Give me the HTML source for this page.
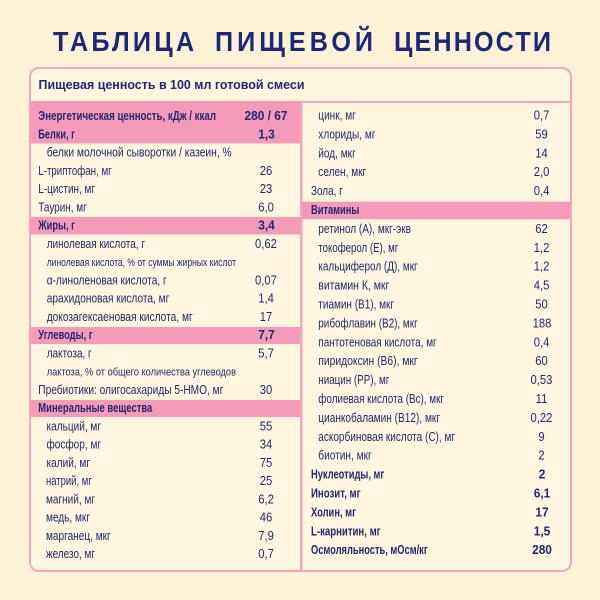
<!DOCTYPE html>
<html><head><meta charset="utf-8"><style>
html,body{margin:0;padding:0;background:#fef2d6;}
svg{display:block;}
text{font-family:"Liberation Sans",sans-serif;fill:#1f2874;font-size:12.6px;}
.b{font-weight:bold;font-size:12.8px;}
.s{font-size:11px;}
.v{font-size:12.5px;}
.vb{font-size:12.8px;font-weight:bold;}
.t{font-size:28px;font-weight:bold;fill:#1b2877;}
.h{font-size:13px;font-weight:bold;}
</style></head><body>
<svg width="600" height="600" viewBox="0 0 600 600" xmlns="http://www.w3.org/2000/svg">
<rect x="0" y="0" width="600" height="600" fill="#fef2d6"/>
<!-- title -->
<text class="t" transform="translate(53,51) scale(.9,1)" textLength="156.7" lengthAdjust="spacing">ТАБЛИЦА</text>
<text class="t" transform="translate(215,51) scale(.9,1)" textLength="175.6" lengthAdjust="spacing">ПИЩЕВОЙ</text>
<text class="t" transform="translate(394,51) scale(.9,1)" textLength="174.4" lengthAdjust="spacing">ЦЕННОСТИ</text>

<!-- box -->
<rect x="30" y="68" width="541" height="503" rx="9" ry="9" fill="#fff6df" stroke="#f4a6bf" stroke-width="2"/>
<rect x="31" y="101" width="539" height="2" fill="#f4a6bf"/>
<rect x="300" y="101" width="2.5" height="469" fill="#f4a6bf"/>
<rect x="31" y="101" width="269" height="42.5" fill="#f59bb9"/>
<rect x="31" y="217" width="269" height="17.5" fill="#f59bb9"/>
<rect x="31" y="327" width="269" height="17" fill="#f59bb9"/>
<rect x="31" y="400" width="269" height="17" fill="#f59bb9"/>
<rect x="302" y="201.7" width="268" height="17.5" fill="#f59bb9"/>

<text class="h" x="38.5" y="89" textLength="266" lengthAdjust="spacingAndGlyphs">Пищевая ценность в 100 мл готовой смеси</text>

<!-- LEFT COLUMN labels -->
<text class="b" x="38.3" y="120" textLength="177.7" lengthAdjust="spacingAndGlyphs">Энергетическая ценность, кДж / ккал</text>
<text class="b" x="38.3" y="138.3" textLength="36.7" lengthAdjust="spacingAndGlyphs">Белки, г</text>
<text x="46.7" y="156.5" textLength="185" lengthAdjust="spacingAndGlyphs">белки молочной сыворотки / казеин, %</text>
<text x="38.3" y="174.8" textLength="73.4" lengthAdjust="spacingAndGlyphs">L-триптофан, мг</text>
<text x="38.3" y="193" textLength="56.7" lengthAdjust="spacingAndGlyphs">L-цистин, мг</text>
<text x="38.3" y="211.3" textLength="48.4" lengthAdjust="spacingAndGlyphs">Таурин, мг</text>
<text class="b" x="38.3" y="229.6" textLength="36.7" lengthAdjust="spacingAndGlyphs">Жиры, г</text>
<text x="46.7" y="247.8" textLength="98.3" lengthAdjust="spacingAndGlyphs">линолевая кислота, г</text>
<text class="s" x="46.7" y="266.1" textLength="189.3" lengthAdjust="spacingAndGlyphs">линолевая кислота, % от суммы жирных кислот</text>
<text x="46.7" y="284.3" textLength="120" lengthAdjust="spacingAndGlyphs">α-линоленовая кислота, г</text>
<text x="46.7" y="302.6" textLength="122.6" lengthAdjust="spacingAndGlyphs">арахидоновая кислота, мг</text>
<text x="46.7" y="320.9" textLength="146" lengthAdjust="spacingAndGlyphs">докозагексаеновая кислота, мг</text>
<text class="b" x="38.3" y="339.1" textLength="54.4" lengthAdjust="spacingAndGlyphs">Углеводы, г</text>
<text x="46.7" y="357.4" textLength="45" lengthAdjust="spacingAndGlyphs">лактоза, г</text>
<text class="s" x="46.7" y="375.6" textLength="189.3" lengthAdjust="spacingAndGlyphs">лактоза, % от общего количества углеводов</text>
<text x="38.3" y="393.9" textLength="185" lengthAdjust="spacingAndGlyphs">Пребиотики: олигосахариды 5-HMO, мг</text>
<text class="b" x="38.3" y="412.2" textLength="114" lengthAdjust="spacingAndGlyphs">Минеральные вещества</text>
<text transform="translate(46.5,430.4) scale(.8,1)">кальций, мг</text>
<text transform="translate(46.5,448.7) scale(.8,1)">фосфор, мг</text>
<text transform="translate(46.5,466.9) scale(.8,1)">калий, мг</text>
<text x="46" y="485.2" textLength="45.7" lengthAdjust="spacingAndGlyphs">натрий, мг</text>
<text x="46" y="503.5" textLength="49" lengthAdjust="spacingAndGlyphs">магний, мг</text>
<text x="46" y="521.7" textLength="44" lengthAdjust="spacingAndGlyphs">медь, мкг</text>
<text x="46" y="540" textLength="64.7" lengthAdjust="spacingAndGlyphs">марганец, мкг</text>
<text x="46" y="558.2" textLength="49" lengthAdjust="spacingAndGlyphs">железо, мг</text>

<!-- LEFT values -->
<g text-anchor="middle">
<text class="vb" transform="translate(266,120) scale(.93,1)">280 / 67</text>
<text class="vb" transform="translate(266.5,138.3) scale(.93,1)">1,3</text>
<text class="v" transform="translate(266,174.8) scale(.9,1)">26</text>
<text class="v" transform="translate(266,193) scale(.9,1)">23</text>
<text class="v" transform="translate(266,211.3) scale(.9,1)">6,0</text>
<text class="vb" transform="translate(266.5,229.6) scale(.93,1)">3,4</text>
<text class="v" transform="translate(266,247.8) scale(.9,1)">0,62</text>
<text class="v" transform="translate(266,284.3) scale(.9,1)">0,07</text>
<text class="v" transform="translate(266,302.6) scale(.9,1)">1,4</text>
<text class="v" transform="translate(266,320.9) scale(.9,1)">17</text>
<text class="vb" transform="translate(266.5,339.1) scale(.93,1)">7,7</text>
<text class="v" transform="translate(266,357.4) scale(.9,1)">5,7</text>
<text class="v" transform="translate(266,393.9) scale(.9,1)">30</text>
<text class="v" transform="translate(266,430.4) scale(.9,1)">55</text>
<text class="v" transform="translate(266,448.7) scale(.9,1)">34</text>
<text class="v" transform="translate(266,466.9) scale(.9,1)">75</text>
<text class="v" transform="translate(266,485.2) scale(.9,1)">25</text>
<text class="v" transform="translate(266,503.5) scale(.9,1)">6,2</text>
<text class="v" transform="translate(266,521.7) scale(.9,1)">46</text>
<text class="v" transform="translate(266,540) scale(.9,1)">7,9</text>
<text class="v" transform="translate(266,558.2) scale(.9,1)">0,7</text>
</g>

<!-- RIGHT COLUMN labels -->
<text transform="translate(318.3,119.5) scale(.8,1)">цинк, мг</text>
<text transform="translate(318.3,138.4) scale(.8,1)">хлориды, мг</text>
<text transform="translate(318.3,157.3) scale(.8,1)">йод, мкг</text>
<text transform="translate(318.3,176.2) scale(.8,1)">селен, мкг</text>
<text x="311" y="195.1" textLength="31.7" lengthAdjust="spacingAndGlyphs">Зола, г</text>
<text class="b" x="311" y="214" textLength="48.3" lengthAdjust="spacingAndGlyphs">Витамины</text>
<text x="318.3" y="232.9" textLength="92.7" lengthAdjust="spacingAndGlyphs">ретинол (А), мкг-экв</text>
<text x="318.3" y="251.8" textLength="80" lengthAdjust="spacingAndGlyphs">токоферол (Е), мг</text>
<text x="318.3" y="270.7" textLength="99.4" lengthAdjust="spacingAndGlyphs">кальциферол (Д), мкг</text>
<text x="318.3" y="289.6" textLength="71" lengthAdjust="spacingAndGlyphs">витамин К, мкг</text>
<text x="318.3" y="308.5" textLength="75.7" lengthAdjust="spacingAndGlyphs">тиамин (В1), мкг</text>
<text x="318.3" y="327.4" textLength="99.4" lengthAdjust="spacingAndGlyphs">рибофлавин (В2), мкг</text>
<text x="318.3" y="346.3" textLength="118.4" lengthAdjust="spacingAndGlyphs">пантотеновая кислота, мг</text>
<text x="318.3" y="365.2" textLength="99.4" lengthAdjust="spacingAndGlyphs">пиридоксин (В6), мкг</text>
<text x="318.3" y="384.1" textLength="71" lengthAdjust="spacingAndGlyphs">ниацин (РР), мг</text>
<text x="318.3" y="403" textLength="125.7" lengthAdjust="spacingAndGlyphs">фолиевая кислота (Вс), мкг</text>
<text x="318.3" y="421.9" textLength="121.7" lengthAdjust="spacingAndGlyphs">цианкобаламин (В12), мкг</text>
<text x="318.3" y="440.8" textLength="136.7" lengthAdjust="spacingAndGlyphs">аскорбиновая кислота (С), мг</text>
<text x="318.3" y="459.7" textLength="53.4" lengthAdjust="spacingAndGlyphs">биотин, мкг</text>
<text class="b" x="311" y="478.6" textLength="73.3" lengthAdjust="spacingAndGlyphs">Нуклеотиды, мг</text>
<text class="b" x="311" y="497.5" textLength="49.7" lengthAdjust="spacingAndGlyphs">Инозит, мг</text>
<text class="b" x="311" y="516.4" textLength="45" lengthAdjust="spacingAndGlyphs">Холин, мг</text>
<text class="b" x="311" y="535.3" textLength="69.7" lengthAdjust="spacingAndGlyphs">L-карнитин, мг</text>
<text class="b" x="311" y="554.2" textLength="116.7" lengthAdjust="spacingAndGlyphs">Осмоляльность, мОсм/кг</text>

<!-- RIGHT values -->
<g text-anchor="middle">
<text class="v" transform="translate(541.5,119.5) scale(.9,1)">0,7</text>
<text class="v" transform="translate(541.5,138.4) scale(.9,1)">59</text>
<text class="v" transform="translate(541.5,157.3) scale(.9,1)">14</text>
<text class="v" transform="translate(541.5,176.2) scale(.9,1)">2,0</text>
<text class="v" transform="translate(541.5,195.1) scale(.9,1)">0,4</text>
<text class="v" transform="translate(541.5,232.9) scale(.9,1)">62</text>
<text class="v" transform="translate(541.5,251.8) scale(.9,1)">1,2</text>
<text class="v" transform="translate(541.5,270.7) scale(.9,1)">1,2</text>
<text class="v" transform="translate(541.5,289.6) scale(.9,1)">4,5</text>
<text class="v" transform="translate(541.5,308.5) scale(.9,1)">50</text>
<text class="v" transform="translate(542,327.4) scale(.9,1)">188</text>
<text class="v" transform="translate(541.5,346.3) scale(.9,1)">0,4</text>
<text class="v" transform="translate(541.5,365.2) scale(.9,1)">60</text>
<text class="v" transform="translate(541.5,384.1) scale(.9,1)">0,53</text>
<text class="v" transform="translate(541.5,403) scale(.9,1)">11</text>
<text class="v" transform="translate(541.5,421.9) scale(.9,1)">0,22</text>
<text class="v" transform="translate(541.5,440.8) scale(.9,1)">9</text>
<text class="v" transform="translate(541.5,459.7) scale(.9,1)">2</text>
<text class="vb" transform="translate(542,478.6) scale(.93,1)">2</text>
<text class="vb" transform="translate(542,497.5) scale(.93,1)">6,1</text>
<text class="vb" transform="translate(542,516.4) scale(.93,1)">17</text>
<text class="vb" transform="translate(542,535.3) scale(.93,1)">1,5</text>
<text class="vb" transform="translate(542,554.2) scale(.93,1)">280</text>
</g>
</svg>
</body></html>
